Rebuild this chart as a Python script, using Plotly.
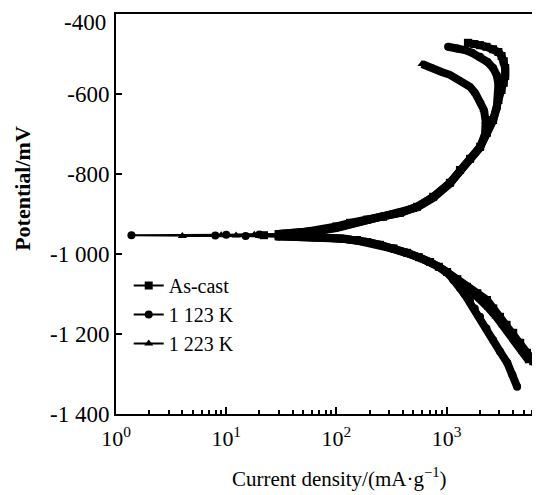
import plotly.graph_objects as go

# Current density (mA/g) and potential (mV),
# ordered from the cathodic end, through Ecorr, to the anodic end.
ascast_i = [7030, 6100, 5360, 4650, 4020, 3500, 3050, 2650, 2320, 1900, 1530, 1250, 1010, 850, 708, 560, 438, 330, 249, 190, 154, 115, 88, 62, 47, 33, 22,
            30, 47, 71, 100, 133, 190, 265, 378, 539, 754, 1070, 1320, 1630, 2010, 2320, 2640, 2950, 3150, 3300, 3400, 3400, 3300, 3150, 2950, 2640, 2300, 2010, 1780, 1560]
ascast_v = [-1290, -1268, -1247, -1222, -1197, -1177, -1157, -1136, -1115, -1098, -1082, -1063, -1045, -1032, -1020, -1008, -997, -986, -977, -970, -965, -962, -960, -958, -957, -955, -953,
            -951, -947, -940, -931, -922, -914, -907, -897, -882, -857, -822, -790, -762, -732, -697, -665, -615, -590, -572, -555, -535, -518, -505, -495, -488, -482, -478, -475, -472]

k1123_i = [4360, 3950, 3550, 3050, 2640, 2300, 2010, 1800, 1630, 1450, 1320, 1150, 1010, 850, 708, 560, 438, 330, 249, 190, 154, 115, 88, 62, 47, 30, 15, 7.96, 1.38,
           10, 20, 30, 50, 71, 100, 133, 190, 265, 378, 539, 754, 1070, 1320, 1630, 2010, 2320, 2640, 2850, 2950, 2950, 2850, 2640, 2350, 2010, 1700, 1468, 1250, 1030]
k1123_v = [-1332, -1302, -1272, -1244, -1215, -1186, -1157, -1136, -1115, -1100, -1085, -1065, -1045, -1032, -1020, -1008, -997, -986, -977, -970, -965, -962, -960, -958, -957, -956, -955, -954, -953,
           -952, -951, -950, -946, -941, -934, -924, -915, -906, -897, -882, -858, -823, -792, -763, -733, -698, -666, -635, -605, -575, -553, -535, -520, -507, -497, -490, -486, -482]

k1223_i = [5600, 4900, 4300, 3750, 3250, 2800, 2400, 2050, 1750, 1480, 1250, 1030, 850, 700, 560, 438, 330, 249, 190, 150, 115, 88, 62, 45, 30, 20, 12.3, 4.0,
           9, 18, 30, 50, 71, 100, 133, 190, 265, 378, 539, 754, 1070, 1320, 1630, 2010, 2230, 2260, 2180, 2010, 1820, 1630, 1350, 1070, 900, 754, 670, 598]
k1223_v = [-1268, -1245, -1222, -1200, -1178, -1156, -1135, -1115, -1098, -1082, -1065, -1046, -1032, -1020, -1008, -997, -987, -978, -971, -966, -962, -960, -958, -957, -956, -955, -954, -955,
           -953, -952, -950, -947, -942, -935, -926, -916, -908, -898, -884, -860, -824, -793, -764, -734, -700, -668, -640, -615, -598, -582, -567, -552, -545, -535, -530, -525]

series = [
    ("As-cast", ascast_i, ascast_v, "square"),
    ("1 123 K", k1123_i, k1123_v, "circle"),
    ("1 223 K", k1223_i, k1223_v, "triangle-up"),
]

y_ticks = [-400, -600, -800, -1000, -1200, -1400]
y_ticktext = ["-400", "-600", "-800", "-1 000", "-1 200", "-1 400"]
x_ticks = [1, 10, 100, 1000]
x_ticktext = ["10<sup>0</sup>", "10<sup>1</sup>", "10<sup>2</sup>", "10<sup>3</sup>"]
x_minor = [m * 10 ** d for d in range(4) for m in range(2, 10)]

FONT = "Liberation Serif, Times New Roman, serif"

fig = go.Figure()
# thick band (dense measured points) where current is larger
for name, xi, yv, sym in series:
    bx = [a for a in xi if a >= 25]
    by = [b for a, b in zip(xi, yv) if a >= 25]
    fig.add_trace(go.Scatter(x=bx, y=by, mode="lines", showlegend=False,
                             line=dict(color="black", width=8), hoverinfo="skip"))
for name, xi, yv, sym in series:
    fig.add_trace(go.Scatter(x=xi, y=yv, mode="lines+markers", name=name,
                             line=dict(color="black", width=2),
                             marker=dict(symbol=sym, size=8, color="black")))

# the top tick label sits a little below its tick in the reference
shown_ticktext = ["" if v == y_ticks[0] else t for v, t in zip(y_ticks, y_ticktext)]

fig.update_layout(
    width=532, height=487,
    margin=dict(l=108, r=0, t=6, b=81),
    paper_bgcolor="white", plot_bgcolor="white",
    font=dict(family=FONT, color="black", size=18),
    legend=dict(x=0.03, y=0.37, xanchor="left", yanchor="top",
                bgcolor="rgba(0,0,0,0)", font=dict(family=FONT, size=20),
                itemwidth=30, tracegroupgap=0),
    annotations=[
        dict(text=y_ticktext[0], xref="paper", yref="y", x=0, y=y_ticks[0],
             xanchor="right", yanchor="middle", xshift=-8, yshift=-8, showarrow=False,
             font=dict(family=FONT, size=23)),
        dict(text="Current density/(mA·g<sup>−1</sup>)", xref="paper", yref="paper",
             x=0.528, y=-0.16, xanchor="center", yanchor="middle", showarrow=False,
             font=dict(family=FONT, size=21)),
        dict(text="<b>Potential/mV</b>", xref="paper", yref="paper",
             x=-0.222, y=0.565, xanchor="center", yanchor="middle", showarrow=False,
             textangle=-90, font=dict(family=FONT, size=22)),
    ],
)
fig.update_xaxes(
    type="log", range=[0, 3.847], automargin=False,
    tickvals=x_ticks, ticktext=x_ticktext, ticklabelstandoff=4,
    ticks="inside", ticklen=7, tickwidth=1.5, tickcolor="black",
    minor=dict(tickvals=x_minor, ticks="inside", ticklen=4, tickcolor="black", showgrid=False),
    showline=True, linecolor="black", linewidth=2, mirror=True,
    showgrid=False, zeroline=False,
    tickfont=dict(family=FONT, size=22),
)
fig.update_yaxes(
    range=[-1400, -400], automargin=False,
    tickvals=y_ticks, ticktext=shown_ticktext,
    ticks="inside", ticklen=6, tickwidth=1.5, tickcolor="black",
    showline=True, linecolor="black", linewidth=2, mirror=False,
    showgrid=False, zeroline=False,
    tickfont=dict(family=FONT, size=23),
)

fig.write_html("out.html")
